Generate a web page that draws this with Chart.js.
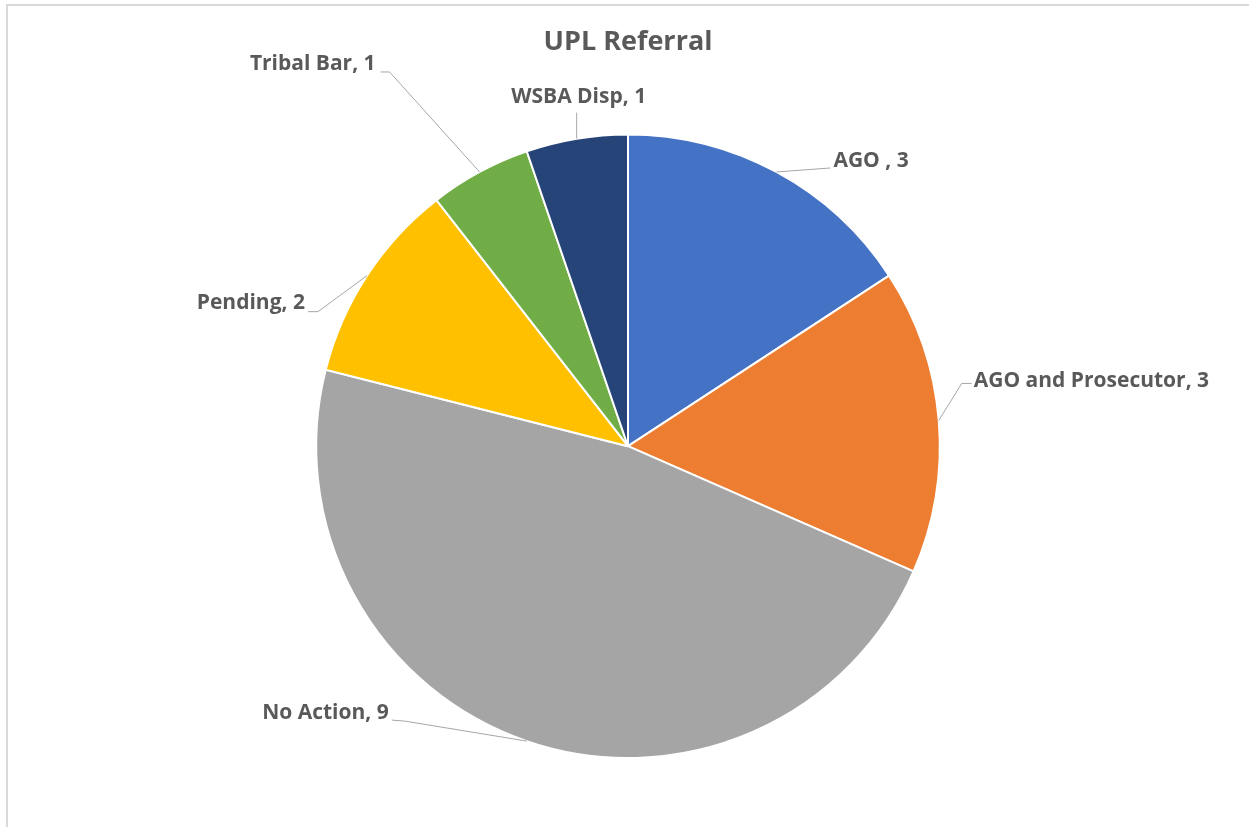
<!DOCTYPE html>
<html>
<head>
<meta charset="utf-8">
<script src="https://cdn.jsdelivr.net/npm/chart.js@4/dist/chart.umd.min.js"></script>
<style>
  html, body { margin: 0; padding: 0; background: #fff; }
  #wrap { width: 1249px; height: 827px; position: relative; }
</style>
</head>
<body>
<div id="wrap"><canvas id="upl-Chart"></canvas></div>
<script>
// data
var categories = ["AGO ", "AGO and Prosecutor", "No Action", "Pending", "Tribal Bar", "WSBA Disp"];
var referralCounts = [3, 3, 9, 2, 1, 1];
var sliceColors = ["#4472C4", "#ED7D31", "#A5A5A5", "#FFC000", "#70AD47", "#264478"];

// where each label sits, relative to the middle of its slice's edge
var labelLayout = [
    { elbow: null,      end: [54, -4],    text: [3, -7],  align: "left" },
    { elbow: [23, -37], end: [33, -37],   text: [2, -2],  align: "left" },
    { elbow: [-122, -20], end: [-135, -21], text: [-3, -7], align: "right" },
    { elbow: [-49, 36], end: [-59, 36],   text: [-3, -9], align: "right" },
    { elbow: [-90, -100], end: [-99, -100], text: [-5, -8], align: "right" },
    { elbow: null,      end: [0, -26],    text: [2, -16], align: "center" }
];

var labelFont = "bold 21px 'Open Sans', Lato, sans-serif";
var textGray = "#595959";

var frameAndLabels = {
    id: "frameAndLabels",
    beforeDraw: function(chart) {
        var c = chart.ctx;
        c.save();
        c.strokeStyle = "#d9d9d9";
        c.lineWidth = 2;
        c.beginPath();
        c.moveTo(7, 827);
        c.lineTo(7, 5);
        c.lineTo(1249, 5);
        c.stroke();
        c.restore();
    },
    afterDatasetsDraw: function(chart) {
        var c = chart.ctx;
        var meta = chart.getDatasetMeta(0);
        c.save();
        c.font = labelFont;
        c.textBaseline = "middle";
        for (let i = 0; i < meta.data.length; i++) {
            var arc = meta.data[i];
            var mid = (arc.startAngle + arc.endAngle) / 2;
            var ex = arc.x + Math.cos(mid) * arc.outerRadius;
            var ey = arc.y + Math.sin(mid) * arc.outerRadius;
            var lay = labelLayout[i];
            c.strokeStyle = "#a6a6a6";
            c.lineWidth = 1;
            c.beginPath();
            c.moveTo(ex, ey);
            if (lay.elbow) {
                c.lineTo(ex + lay.elbow[0], ey + lay.elbow[1]);
            }
            var lx = ex + lay.end[0], ly = ey + lay.end[1];
            c.lineTo(lx, ly);
            c.stroke();
            c.fillStyle = textGray;
            c.textAlign = lay.align;
            c.fillText(chart.data.labels[i] + ", " + chart.data.datasets[0].data[i], lx + lay.text[0], ly + lay.text[1]);
        }
        c.restore();
    }
};

var ctx = document.getElementById("upl-Chart").getContext("2d");
var uplChart = new Chart(ctx, {
    type: "pie",
    data: {
        labels: categories,
        datasets: [{
            data: referralCounts,
            backgroundColor: sliceColors,
            borderColor: "#ffffff",
            borderWidth: 2
        }]
    },
    options: {
        responsive: true,
        maintainAspectRatio: false,
        animation: false,
        layout: { padding: { left: 7, right: 0, top: 0, bottom: 68 } },
        plugins: {
            legend: { display: false },
            tooltip: { enabled: false },
            title: {
                display: true,
                text: "UPL Referral",
                color: textGray,
                font: { family: "'Open Sans', Lato, sans-serif", size: 27, weight: "bold", lineHeight: 1.2 },
                padding: { top: 26, bottom: 75 }
            }
        }
    },
    plugins: [frameAndLabels]
});
</script>
</body>
</html>
